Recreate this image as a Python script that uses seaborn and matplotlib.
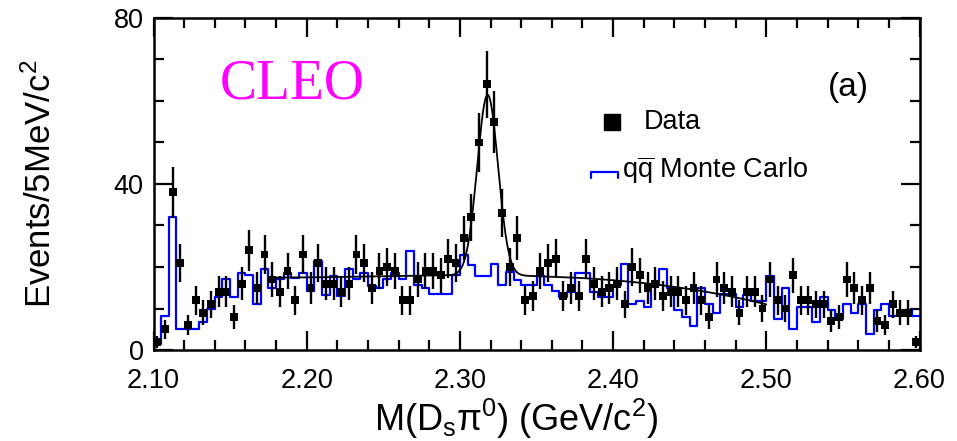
import numpy as np
import pandas as pd
import matplotlib
matplotlib.use("Agg")
import matplotlib.pyplot as plt
import seaborn as sns
from matplotlib.ticker import MultipleLocator, FormatStrFormatter

# ---------------- data ----------------
bin_lo = 2.10
bin_hi = 2.60

data_counts = [2, 5, 38, 21, 6, 12, 9, 11, 14, 14,
               8, 16, 24, 15, 23, 17, 14, 19, 12, 23,
               15, 21, 16, 16, 14, 16, 23, 21, 15, 19,
               20, 19, 12, 12, 17, 19, 19, 18, 22, 21,
               27, 32, 50, 64, 55, 33, 20, 27, 12, 13,
               19, 21, 22, 13, 15, 13, 22, 16, 14, 15,
               16, 11, 20, 18, 15, 16, 13, 14, 14, 12,
               15, 12, 8, 17, 15, 14, 9, 14, 14, 10,
               17, 12, 10, 18, 12, 12, 11, 11, 7, 8,
               17, 15, 12, 15, 7, 6, 11, 9, 9, 2]

mc_counts = [1.5, 8.3, 32.0, 5.1, 5.1, 5.1, 6.7, 10.0, 12.8, 17.1,
             12.8, 18.6, 18.0, 11.1, 19.4, 14.9, 17.2, 18.6, 17.3, 18.6,
             14.1, 21.4, 13.3, 17.8, 12.9, 19.4, 17.2, 18.6, 15.5, 14.9,
             17.0, 18.6, 17.2, 23.8, 15.6, 15.0, 13.4, 13.4, 13.4, 18.0,
             23.0, 20.6, 17.9, 17.9, 20.7, 15.6, 18.7, 16.9, 15.6, 15.6,
             17.9, 15.6, 14.3, 12.7, 14.0, 18.6, 18.6, 14.0, 12.8, 12.8,
             15.7, 20.7, 11.1, 11.9, 10.4, 15.7, 19.4, 14.9, 9.6, 8.0,
             5.9, 14.9, 11.1, 8.8, 13.5, 13.5, 10.4, 13.3, 11.9, 11.9,
             17.8, 7.4, 14.9, 5.1, 10.4, 10.4, 6.7, 12.7, 9.6, 7.4,
             11.1, 8.8, 11.1, 3.8, 9.6, 11.1, 8.2, 8.8, 9.6, 8.2]

# fitted curve: Gaussian signal + cubic background in (m - fit_ref)
fit_mean = 2.3181
fit_sigma = 0.0068
fit_amp = 43.5
fit_ref = 2.30
fit_bkg = [18.0, 1.49, -84.2, -491.5]
fit_lo, fit_hi = 2.18, 2.50

x_ticks = [2.10, 2.20, 2.30, 2.40, 2.50, 2.60]
y_ticks = [0, 40, 80]

# ---------------- style ----------------
sns.set_style("ticks")
plt.rcParams["font.family"] = ["Liberation Sans", "DejaVu Sans"]
plt.rcParams["mathtext.fontset"] = "custom"
plt.rcParams["mathtext.rm"] = "Liberation Sans"
plt.rcParams["mathtext.it"] = "Liberation Sans:italic"
plt.rcParams["mathtext.default"] = "regular"
plt.rcParams["text.color"] = "black"
plt.rcParams["axes.labelcolor"] = "black"
plt.rcParams["xtick.color"] = "black"
plt.rcParams["ytick.color"] = "black"

fig = plt.figure(figsize=(9.57, 4.41), dpi=100)
ax = fig.add_axes([153.5 / 957, 1 - 350 / 441, 766 / 957, 332 / 441])

n = len(data_counts)
bin_width = (bin_hi - bin_lo) / n
centers = bin_lo + bin_width * (np.arange(n) + 0.5)
df = pd.DataFrame({"mass": centers, "data": data_counts, "mc": mc_counts})

# MC histogram
sns.histplot(data=df, x="mass", weights="mc", bins=n, binrange=(bin_lo, bin_hi),
             element="step", fill=False, color="#0000ff", linewidth=1.6,
             ax=ax, zorder=2)

# fit curve
m_grid = np.linspace(fit_lo, fit_hi, 800)
dm = m_grid - fit_ref
bkg = fit_bkg[0] + fit_bkg[1] * dm + fit_bkg[2] * dm ** 2 + fit_bkg[3] * dm ** 3
curve = bkg + fit_amp * np.exp(-0.5 * ((m_grid - fit_mean) / fit_sigma) ** 2)
sns.lineplot(x=m_grid, y=curve, color="black", linewidth=1.3, ax=ax, zorder=3)

# data points with Poisson errors
ax.errorbar(df["mass"], df["data"], yerr=np.sqrt(df["data"]), fmt="none",
            ecolor="black", elinewidth=1.7, capsize=0, zorder=4)
sns.scatterplot(data=df, x="mass", y="data", marker="s", s=32, color="black",
                edgecolor="none", ax=ax, zorder=5)

# axes
ax.set_xlim(bin_lo, bin_hi)
ax.set_ylim(0, 80)
ax.set_xticks(x_ticks)
ax.set_yticks(y_ticks)
ax.xaxis.set_major_formatter(FormatStrFormatter("%.2f"))
ax.xaxis.set_minor_locator(MultipleLocator(0.02))
ax.yaxis.set_minor_locator(MultipleLocator(10))
ax.tick_params(which="both", direction="in", top=True, right=True,
               width=1.6, colors="black", labelsize=19.5)
ax.tick_params(which="major", length=14)
ax.tick_params(which="minor", length=7)
ax.tick_params(axis="x", which="major", pad=13)
ax.tick_params(axis="y", which="major", pad=7)
for s in ax.spines.values():
    s.set_linewidth(1.8)
    s.set_color("black")

ax.set_ylabel("Events/5MeV/c$^{2}$", fontsize=25, labelpad=40)
ax.set_xlabel("M(D$_{s}$π$^{0}$) (GeV/c$^{2}$)", fontsize=26, labelpad=2)
ax.xaxis.label.set_x(0.473)

# annotations
ax.text(0.181, 0.80, "CLEO", transform=ax.transAxes, color="#ff00ff",
        fontsize=40, family="Liberation Serif", ha="center", va="center")
ax.text(0.907, 0.79, "(a)", transform=ax.transAxes, fontsize=24,
        ha="center", va="center")

# legend (drawn in axes coordinates)
ax.plot([0.599], [0.688], transform=ax.transAxes, marker="s", ms=11,
        color="black", linestyle="none", clip_on=False)
ax.text(0.640, 0.688, "Data", transform=ax.transAxes, fontsize=19.5,
        ha="left", va="center")
ax.plot([0.571, 0.571, 0.606, 0.606], [0.517, 0.537, 0.537, 0.517],
        transform=ax.transAxes, color="#0000ff", linewidth=1.6, clip_on=False)
ax.text(0.612, 0.542, r"q$\overline{\mathrm{q}}$ Monte Carlo", transform=ax.transAxes,
        fontsize=19.5, ha="left", va="center")

fig.savefig("out.png", dpi=100)
